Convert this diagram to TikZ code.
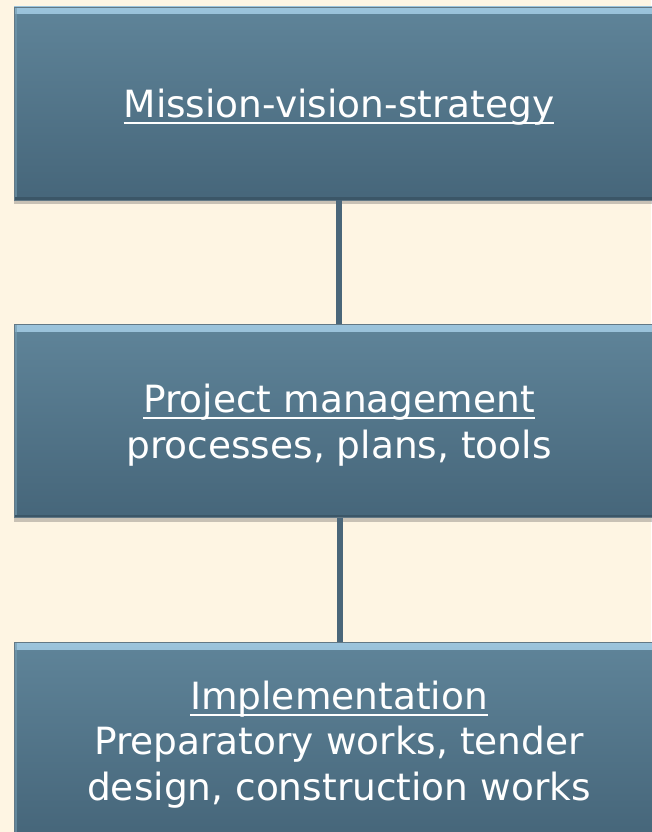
\documentclass[tikz,border=0pt]{standalone}
\usepackage{fontspec}
\setmainfont{DejaVu Sans}
\usetikzlibrary{shadows}
\definecolor{paper}{HTML}{FEF5E3}
\definecolor{boxtop}{HTML}{5F8499}
\definecolor{boxbot}{HTML}{46667A}
\definecolor{bevel}{HTML}{9CC4DC}
\definecolor{rim}{HTML}{3B5667}
\definecolor{linkcol}{HTML}{4A6679}
\newcommand{\ulabel}[1]{\setbox0\hbox{#1}\rlap{\rule[-6.2pt]{\wd0}{1.8pt}}\box0}

\begin{document}
\begin{tikzpicture}[
    x=1pt, y=-1pt,
    % Styles
    stage/.style={% For the three boxes
        rectangle,
        minimum width=650pt,
        minimum height=193pt,
        top color=boxtop,
        bottom color=boxbot,
        draw=rim!80,
        line width=.8pt,
        drop shadow={shadow xshift=0pt, shadow yshift=-4pt, opacity=.3, fill=black!70},
        path picture={
            \fill[top color=bevel, bottom color=boxtop] (path picture bounding box.north west) rectangle ([yshift=-7pt]path picture bounding box.north east);
            \fill[bevel!35!boxtop, opacity=.6] (path picture bounding box.north west) rectangle ([xshift=3pt]path picture bounding box.south west);
            \fill[rim] (path picture bounding box.south west) rectangle ([yshift=3pt]path picture bounding box.south east);
        },
    },
    caption/.style={% For the texts in the boxes
        text=white,
        align=center,
        inner sep=0pt,
        font=\fontsize{37.5}{45.5}\selectfont,
    },
    link/.style={% For the connecting bars
        draw=linkcol,
        line width=5.5pt,
    },
    ]

    % Background
    \fill[paper] (0,0) rectangle (651,832);
    \useasboundingbox (0,0) rectangle (651,832);

    % Draw boxes
    \node [stage] (mission) at (339,103.5) {};
    \node [stage] (project) at (339,421) {};
    \node [stage] (implement) at (339,738.5) {};

    % Connect boxes
    \draw [link] (mission.south) -- (project.north);
    \draw [link] ([xshift=1pt]project.south) -- ([xshift=1pt]implement.north);

    % Text
    \node [caption] (missiontext) at ([yshift=-4pt]mission.center) {\ulabel{Mission-vision-strategy}};
    \node [caption] (projecttext) at ([yshift=-4pt]project.center) {\ulabel{Project management}\\processes, plans, tools};
    \node [caption] (implementtext) at ([yshift=-6pt]implement.center) {\ulabel{Implementation}\\Preparatory works, tender\\design, construction works};

\end{tikzpicture}
\end{document}
